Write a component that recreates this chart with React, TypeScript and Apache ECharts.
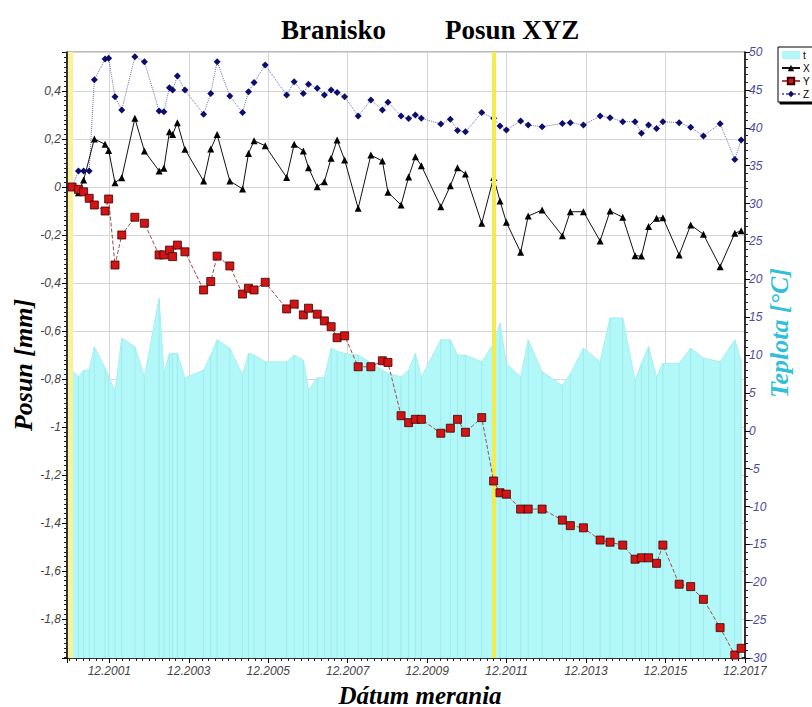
import React, { useEffect, useRef } from 'react';
import * as echarts from 'echarts';

// measurement dates (decimal years)
const dates = [
  2000.98, 2001.14, 2001.27, 2001.41, 2001.54, 2001.81, 2001.90, 2002.06, 2002.23, 2002.56,
  2002.80, 2003.17, 2003.29, 2003.43, 2003.51, 2003.63, 2003.82, 2004.29, 2004.47, 2004.63,
  2004.95, 2005.27, 2005.42, 2005.56, 2005.84, 2006.38, 2006.57, 2006.80, 2006.93, 2007.15,
  2007.33, 2007.50, 2007.65, 2007.84, 2008.18, 2008.50, 2008.79, 2008.93, 2009.26, 2009.45,
  2009.62, 2009.77, 2010.26, 2010.50, 2010.68, 2010.88, 2011.29, 2011.59, 2011.75, 2011.91,
  2012.27, 2012.46, 2012.81, 2013.32, 2013.52, 2013.85, 2014.27, 2014.52, 2014.84, 2015.15,
  2015.31, 2015.49, 2015.69, 2015.85, 2016.26, 2016.55, 2016.87, 2017.29, 2017.66, 2017.82,
];

// displacement X [mm]
const seriesX = [
  0, -0.024, 0.029, null, 0.2, 0.178, 0.152, 0.018, 0.039, 0.286,
  0.15, 0.067, 0.078, 0.23, 0.219, 0.268, 0.157, 0.025, 0.158, 0.219,
  0.025, -0.008, 0.14, 0.193, 0.172, 0.04, 0.178, 0.15, 0.08, 0.001,
  0.022, 0.12, 0.196, 0.113, -0.089, 0.133, 0.108, -0.022, -0.075, 0.042,
  0.126, 0.089, -0.082, 0.005, 0.08, 0.054, -0.151, 0.04, -0.058, -0.147,
  -0.272, -0.121, -0.096, -0.203, -0.103, -0.103, -0.225, -0.1, -0.126, -0.286,
  -0.288, -0.165, -0.13, -0.128, -0.283, -0.158, -0.197, -0.332, -0.193, -0.182,
];

// displacement Y [mm]
const seriesY = [
  0, -0.01, -0.02, -0.047, -0.075, -0.1, -0.05, -0.325, -0.2, -0.126,
  -0.151, -0.283, -0.283, -0.263, -0.29, -0.242, -0.27, -0.429, -0.394, -0.288,
  -0.329, -0.446, -0.422, -0.429, -0.397, -0.508, -0.488, -0.533, -0.505, -0.53,
  -0.558, -0.582, -0.628, -0.62, -0.749, -0.749, -0.724, -0.731, -0.953, -0.982,
  -0.968, -0.968, -1.026, -1.005, -0.968, -1.022, -0.961, -1.225, -1.274, -1.28,
  -1.342, -1.342, -1.342, -1.388, -1.411, -1.42, -1.471, -1.48, -1.492, -1.551,
  -1.545, -1.545, -1.568, -1.492, -1.655, -1.665, -1.718, -1.836, -1.95, -1.922,
];

// displacement Z [mm]
const seriesZ = [
  0, 0.067, 0.067, 0.067, 0.447, 0.533, 0.536, 0.376, 0.321, 0.543,
  0.522, 0.317, 0.314, 0.414, 0.404, 0.463, 0.404, 0.303, 0.39, 0.522,
  0.379, 0.31, 0.397, 0.435, 0.508, 0.383, 0.439, 0.39, 0.428, 0.411,
  0.383, 0.404, 0.394, 0.376, 0.296, 0.363, 0.321, 0.353, 0.296, 0.285,
  0.3, 0.286, 0.263, 0.282, 0.235, 0.23, 0.31, 0.286, 0.254, 0.238,
  0.275, 0.258, 0.251, 0.265, 0.268, 0.258, 0.296, 0.289, 0.272, 0.272,
  0.224, 0.258, 0.244, 0.272, 0.268, 0.249, 0.213, 0.264, 0.115, 0.196,
];

// temperature t [°C]
const temperature = [
  8.0, 7.1, 8.0, 8.0, 11.1, 8.3, 7.2, 5.2, 12.2, 11.1,
  7.1, 17.5, 7.6, 10.2, 10.2, 10.2, 7.0, 8.0, 10.0, 12.0,
  10.9, 7.4, 10.2, 10.0, 9.1, 9.1, 10.0, 9.3, 5.4, 7.0,
  7.0, 10.9, 10.5, 10.2, 10.0, 9.0, 8.0, 7.6, 7.1, 8.0,
  10.2, 7.1, 12.0, 12.0, 10.0, 10.0, 9.1, 11.5, 14.2, 8.9,
  7.1, 12.0, 7.8, 6.0, 7.5, 10.9, 9.1, 14.9, 14.9, 6.7,
  8.9, 11.1, 7.1, 8.9, 8.9, 10.9, 9.6, 9.1, 12.0, 9.3,
];

// reference (zero) measurements marked by yellow lines
const referenceDates = [2000.94, 2011.59];

const ORIGIN = 2001 + 11 / 12; // 12.2001
const SERIF = '"Liberation Serif", "Times New Roman", serif';
const SANS = '"Liberation Sans", Arial, sans-serif';

export default function App() {
  const ref = useRef<HTMLDivElement>(null);

  useEffect(() => {
    const chart = echarts.init(ref.current!, null, { renderer: 'svg' });
    const u = (d: number) => d - ORIGIN;
    const pairs = (vals: (number | null)[]) => dates.map((d, i) => [u(d), vals[i]]);

    const option: any = {
      animation: false,
      backgroundColor: '#ffffff',
      grid: {
        left: 67,
        right: 67,
        top: 52,
        bottom: 49,
        show: true,
        borderColor: '#7a7a7a',
        borderWidth: 1,
        backgroundColor: '#ffffff',
      },
      legend: {
        data: [{ name: 't', icon: 'rect' }, 'X', 'Y', 'Z'],
        orient: 'vertical',
        left: 778,
        top: 47,
        itemWidth: 18,
        itemHeight: 8,
        itemGap: 3,
        selectedMode: false,
        padding: [3, 4, 3, 3],
        borderColor: '#000',
        borderWidth: 1,
        backgroundColor: '#fff',
        shadowColor: '#000',
        shadowOffsetX: 2,
        shadowOffsetY: 2,
        shadowBlur: 0,
        textStyle: { fontSize: 10, color: '#000', fontFamily: SANS, padding: [0, 0, 0, -2] },
      },
      xAxis: {
        type: 'value',
        min: -1.065,
        max: 16,
        splitNumber: 8,
        axisLine: { show: true, onZero: false, lineStyle: { color: '#000', width: 1.5 } },
        axisTick: { show: true, length: 5, lineStyle: { color: '#000' } },
        minorTick: { show: true, splitNumber: 12, length: 3, lineStyle: { color: '#222' } },
        axisLabel: {
          fontStyle: 'italic',
          fontSize: 12,
          color: '#444',
          fontFamily: SANS,
          margin: 7,
          formatter: (v: number) => {
            const k = Math.round(v);
            if (Math.abs(v - k) > 1e-6 || k % 2 !== 0) return '';
            return '12.' + (2001 + k);
          },
        },
        splitLine: { show: true, lineStyle: { color: '#d6d6d6', width: 1 } },
      },
      yAxis: [
        {
          type: 'value',
          position: 'left',
          min: -1.9625,
          max: 0.5625,
          splitNumber: 12,
          axisLine: { show: true, onZero: false, lineStyle: { color: '#000', width: 1.5 } },
          axisTick: { show: true, length: 5, lineStyle: { color: '#000' } },
          minorTick: { show: true, splitNumber: 10, length: 3, lineStyle: { color: '#222' } },
          axisLabel: {
            fontStyle: 'italic',
            fontSize: 12,
            color: '#444',
            fontFamily: SANS,
            margin: 6,
            formatter: (v: number) => {
              const q = v / 0.2;
              if (Math.abs(q - Math.round(q)) > 1e-6) return '';
              const r = Math.round(v * 10) / 10;
              return String(r).replace('.', ',');
            },
          },
          splitLine: { show: true, lineStyle: { color: '#d6d6d6', width: 1 } },
        },
        {
          type: 'value',
          position: 'right',
          min: -30,
          max: 50,
          interval: 5,
          axisLine: { show: true, onZero: false, lineStyle: { color: '#000', width: 1.5 } },
          axisTick: { show: true, length: 5, lineStyle: { color: '#000' } },
          minorTick: { show: true, splitNumber: 5, length: 3, lineStyle: { color: '#222' } },
          axisLabel: {
            fontStyle: 'italic',
            fontSize: 12,
            color: '#4b4b9e',
            fontFamily: SANS,
            margin: 4,
          },
          splitLine: { show: false },
        },
        { type: 'value', min: 0, max: 80, show: false },
      ],
      series: [
        {
          name: 't',
          type: 'line',
          yAxisIndex: 1,
          data: pairs(temperature),
          symbol: 'none',
          lineStyle: { width: 1, color: '#a6f0f2' },
          itemStyle: { color: '#b3f8f8' },
          areaStyle: { color: '#b3f8f8', opacity: 1, origin: 'start' },
          z: 1,
        },
        {
          type: 'bar',
          yAxisIndex: 2,
          data: dates.map((d, i) => [u(d), temperature[i] + 30]),
          barWidth: 1,
          itemStyle: { color: '#9deaef' },
          silent: true,
          z: 2,
          markLine: {
            silent: true,
            symbol: ['none', 'none'],
            label: { show: false },
            lineStyle: { color: '#f2ec4e', width: 4, type: 'solid' },
            data: referenceDates.map((d, i) => ({
              xAxis: u(d),
              lineStyle: i === 0 ? { color: '#f8f39a', width: 5, type: 'solid' } : { color: '#f2ec4e', width: 4, type: 'solid' },
            })),
          },
        },
        {
          name: 'Z',
          type: 'line',
          yAxisIndex: 0,
          data: pairs(seriesZ),
          symbol: 'diamond',
          symbolSize: 7,
          lineStyle: { color: '#6b6fc0', width: 1, type: 'dotted' },
          itemStyle: { color: '#0d0d6e' },
          z: 3,
        },
        {
          name: 'X',
          type: 'line',
          yAxisIndex: 0,
          data: pairs(seriesX),
          connectNulls: true,
          symbol: 'triangle',
          symbolSize: 7,
          lineStyle: { color: '#111', width: 1 },
          itemStyle: { color: '#000' },
          z: 4,
        },
        {
          name: 'Y',
          type: 'line',
          yAxisIndex: 0,
          data: pairs(seriesY),
          symbol: 'rect',
          symbolSize: 8,
          lineStyle: { color: '#a4484a', width: 1, type: 'dashed' },
          itemStyle: { color: '#d41414', borderColor: '#3a0000', borderWidth: 0.8 },
          z: 5,
        },
      ],
      graphic: [
        {
          type: 'text', x: 281, y: 30,
          style: { text: 'Branisko', font: `bold 27px ${SERIF}`, fill: '#000', align: 'left', verticalAlign: 'middle', textAlign: 'left', textVerticalAlign: 'middle' },
        },
        {
          type: 'text', x: 445, y: 30,
          style: { text: 'Posun XYZ', font: `bold 27px ${SERIF}`, fill: '#000', align: 'left', verticalAlign: 'middle', textAlign: 'left', textVerticalAlign: 'middle' },
        },
        {
          type: 'text', x: 23, y: 365, rotation: Math.PI / 2,
          style: { text: 'Posun [mm]', font: `italic bold 26px ${SERIF}`, fill: '#000', align: 'center', verticalAlign: 'middle', textAlign: 'center', textVerticalAlign: 'middle' },
        },
        {
          type: 'text', x: 779, y: 333, rotation: Math.PI / 2,
          style: { text: 'Teplota [°C]', font: `italic bold 26px ${SERIF}`, fill: '#33bfd9', align: 'center', verticalAlign: 'middle', textAlign: 'center', textVerticalAlign: 'middle' },
        },
        {
          type: 'text', x: 420, y: 695,
          style: { text: 'Dátum merania', font: `italic bold 25px ${SERIF}`, fill: '#000', align: 'center', verticalAlign: 'middle', textAlign: 'center', textVerticalAlign: 'middle' },
        },
      ],
    };

    chart.setOption(option);
    return () => chart.dispose();
  }, []);

  return <div ref={ref} style={{ position: 'absolute', left: 0, top: 0, width: 812, height: 707 }} />;
}
